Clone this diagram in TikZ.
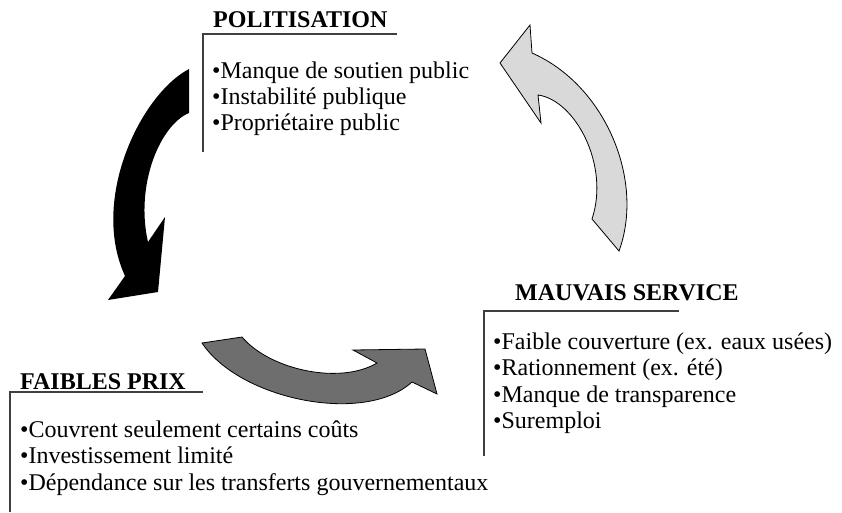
\documentclass[tikz,border=0pt]{standalone}
\usepackage{fontspec}
\setmainfont{Liberation Serif}
\definecolor{rulegray}{HTML}{404040}
\definecolor{midgray}{HTML}{6E6E6E}
\definecolor{palegray}{HTML}{D9D9D9}
\begin{document}
\begin{tikzpicture}[x=1pt,y=-1pt,
  head/.style={font=\fontsize{24}{26}\selectfont\bfseries, anchor=base west, inner sep=0pt},
  item/.style={font=\fontsize{24}{26}\selectfont, anchor=base west, inner sep=0pt},
  bracket/.style={draw=rulegray, line width=1.2pt},
  bigarrow/.style={draw=black, line width=0.8pt, line join=miter}]
\useasboundingbox (0,0) rectangle (842,512);

% --- cycle arrows ---
% black arrow: politisation -> faibles prix
\fill[black] (189,69) .. controls (140,95) and (90,200) .. (125,276)
  -- (108,300) -- (158,292) -- (165,217) -- (148,242)
  .. controls (135,185) and (160,125) .. (189,113) -- cycle;
% dark grey arrow: faibles prix -> mauvais service
\filldraw[bigarrow, fill=midgray] (202,343) .. controls (240,400) and (365,425) .. (412,382)
  -- (437,394) -- (425,349) -- (353,350) -- (377,363)
  .. controls (340,385) and (270,370) .. (242,337) -- cycle;
% light grey arrow: mauvais service -> politisation
\filldraw[bigarrow, fill=palegray] (619,251) .. controls (645,180) and (605,85) .. (532,53)
  -- (530,25) -- (500,63) -- (541,123) -- (538,95)
  .. controls (575,100) and (610,165) .. (592,219) -- cycle;

% --- politisation ---
\coordinate (pa) at (397,34);
\coordinate (pb) at (203,34);
\coordinate (pc) at (203,152);
\draw[bracket] (pa) -- (pb) -- (pc);
\node[head] (pol) at (213,27) {POLITISATION};
\node[item] (pol1) at (212,78) {•Manque de soutien public};
\node[item] (pol2) at (212,104) {•Instabilité publique};
\node[item] (pol3) at (212,130) {•Propriétaire public};

% --- mauvais service ---
\coordinate (ma) at (679,311);
\coordinate (mb) at (484,311);
\coordinate (mc) at (484,456);
\draw[bracket] (ma) -- (mb) -- (mc);
\node[head] (mau) at (515,300) {MAUVAIS SERVICE};
\node[item] (mau1) at (493,349) {•Faible couverture (ex. eaux usées)};
\node[item] (mau2) at (493,375) {•Rationnement (ex. été)};
\node[item] (mau3) at (493,402) {•Manque de transparence};
\node[item] (mau4) at (493,428) {•Suremploi};

% --- faibles prix ---
\coordinate (fa) at (203,392);
\coordinate (fb) at (10,392);
\coordinate (fc) at (10,512);
\draw[bracket] (fa) -- (fb) -- (fc);
\node[head] (fai) at (20,389) {FAIBLES PRIX};
\node[item] (fai1) at (20,437) {•Couvrent seulement certains coûts};
\node[item] (fai2) at (20,463) {•Investissement limité};
\node[item] (fai3) at (20,490) {•Dépendance sur les transferts gouvernementaux};
\end{tikzpicture}
\end{document}
